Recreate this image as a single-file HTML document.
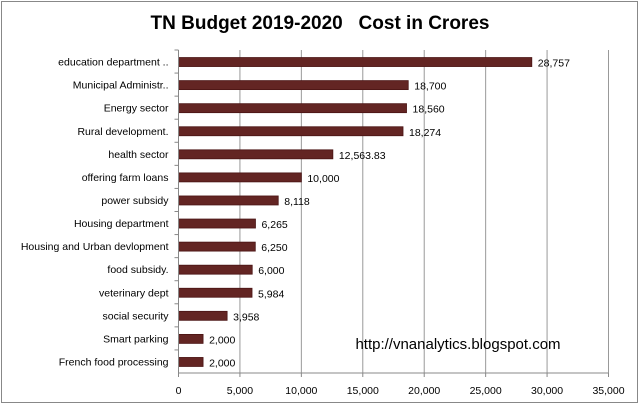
<!DOCTYPE html>
<html><head><meta charset="utf-8"><style>
body{margin:0;background:#fff;}
svg{display:block;font-family:"Liberation Sans",sans-serif;}
</style></head><body>
<svg id="chart" width="640" height="405">
<rect x="1.5" y="1.5" width="636" height="401" fill="#fff" stroke="#888"/>
<text x="320" y="29" text-anchor="middle" font-size="19" font-weight="bold" fill="#000" xml:space="preserve">TN Budget 2019-2020   Cost in Crores</text>
<g id="grid"></g><g id="bars"></g><g id="axes"></g>
<text x="458" y="349" text-anchor="middle" font-size="15" fill="#000">http://vnanalytics.blogspot.com</text>
</svg>
<script>
const categories=["education department ..","Municipal Administr..","Energy sector","Rural development.","health sector","offering farm loans","power subsidy","Housing department","Housing and Urban devlopment","food subsidy.","veterinary dept","social security","Smart parking","French food processing"];
const values=[28757,18700,18560,18274,12563.83,10000,8118,6265,6250,6000,5984,3958,2000,2000];
const valueLabels=["28,757","18,700","18,560","18,274","12,563.83","10,000","8,118","6,265","6,250","6,000","5,984","3,958","2,000","2,000"];
const ticks=[0,5000,10000,15000,20000,25000,30000,35000];
const tickLabels=["0","5,000","10,000","15,000","20,000","25,000","30,000","35,000"];
const NS="http://www.w3.org/2000/svg";
const x0=178.5,x1=608.5,y0=50,y1=373,xmax=35000;
const xs=v=>x0+v/xmax*(x1-x0);
const band=(y1-y0)/categories.length;
const yc=i=>y0+band*(i+0.5);
function mk(t,a,p){const e=document.createElementNS(NS,t);for(const k in a)e.setAttribute(k,a[k]);p.appendChild(e);return e;}
const grid=document.getElementById('grid'),bars=document.getElementById('bars'),axes=document.getElementById('axes');
ticks.forEach((t,i)=>{
  if(i>0){const g=mk('line',{x1:xs(t),x2:xs(t),y1:y0,y2:y1,stroke:'#999','stroke-width':1},grid);
  
  }
  const tl=mk('text',{x:xs(t),y:y1+21,'text-anchor':'middle','font-size':10.5,fill:'#000'},axes);
  tl.textContent=tickLabels[i];
  
  
});
categories.forEach((c,i)=>{
  const y=yc(i);
  const r=mk('rect',{x:x0,y:y-4,width:xs(values[i])-x0,height:9,fill:'#632523',stroke:'#4a1414','stroke-width':0.8},bars);
  
  
  const vl=mk('text',{x:xs(values[i])+6,y:y+5,'font-size':10.5,fill:'#000'},bars);
  vl.textContent=valueLabels[i];
  
  
  const cl=mk('text',{x:x0-10,y:y+4,'text-anchor':'end','font-size':10.5,fill:'#000'},axes);
  cl.textContent=c;
  
  
  const tk=mk('line',{x1:x0-4,x2:x0,y1:y0+band*i,y2:y0+band*i,stroke:'#888'},axes);
  
  
});
const ya=mk('line',{x1:x0,x2:x0,y1:y0,y2:y1,stroke:'#888'},axes);


const xa=mk('line',{x1:x0,x2:x1,y1:y1,y2:y1,stroke:'#888'},axes);


ticks.forEach(t=>{const k=mk('line',{x1:xs(t),x2:xs(t),y1:y1,y2:y1+4,stroke:'#888'},axes);

});
</script>
</body></html>
